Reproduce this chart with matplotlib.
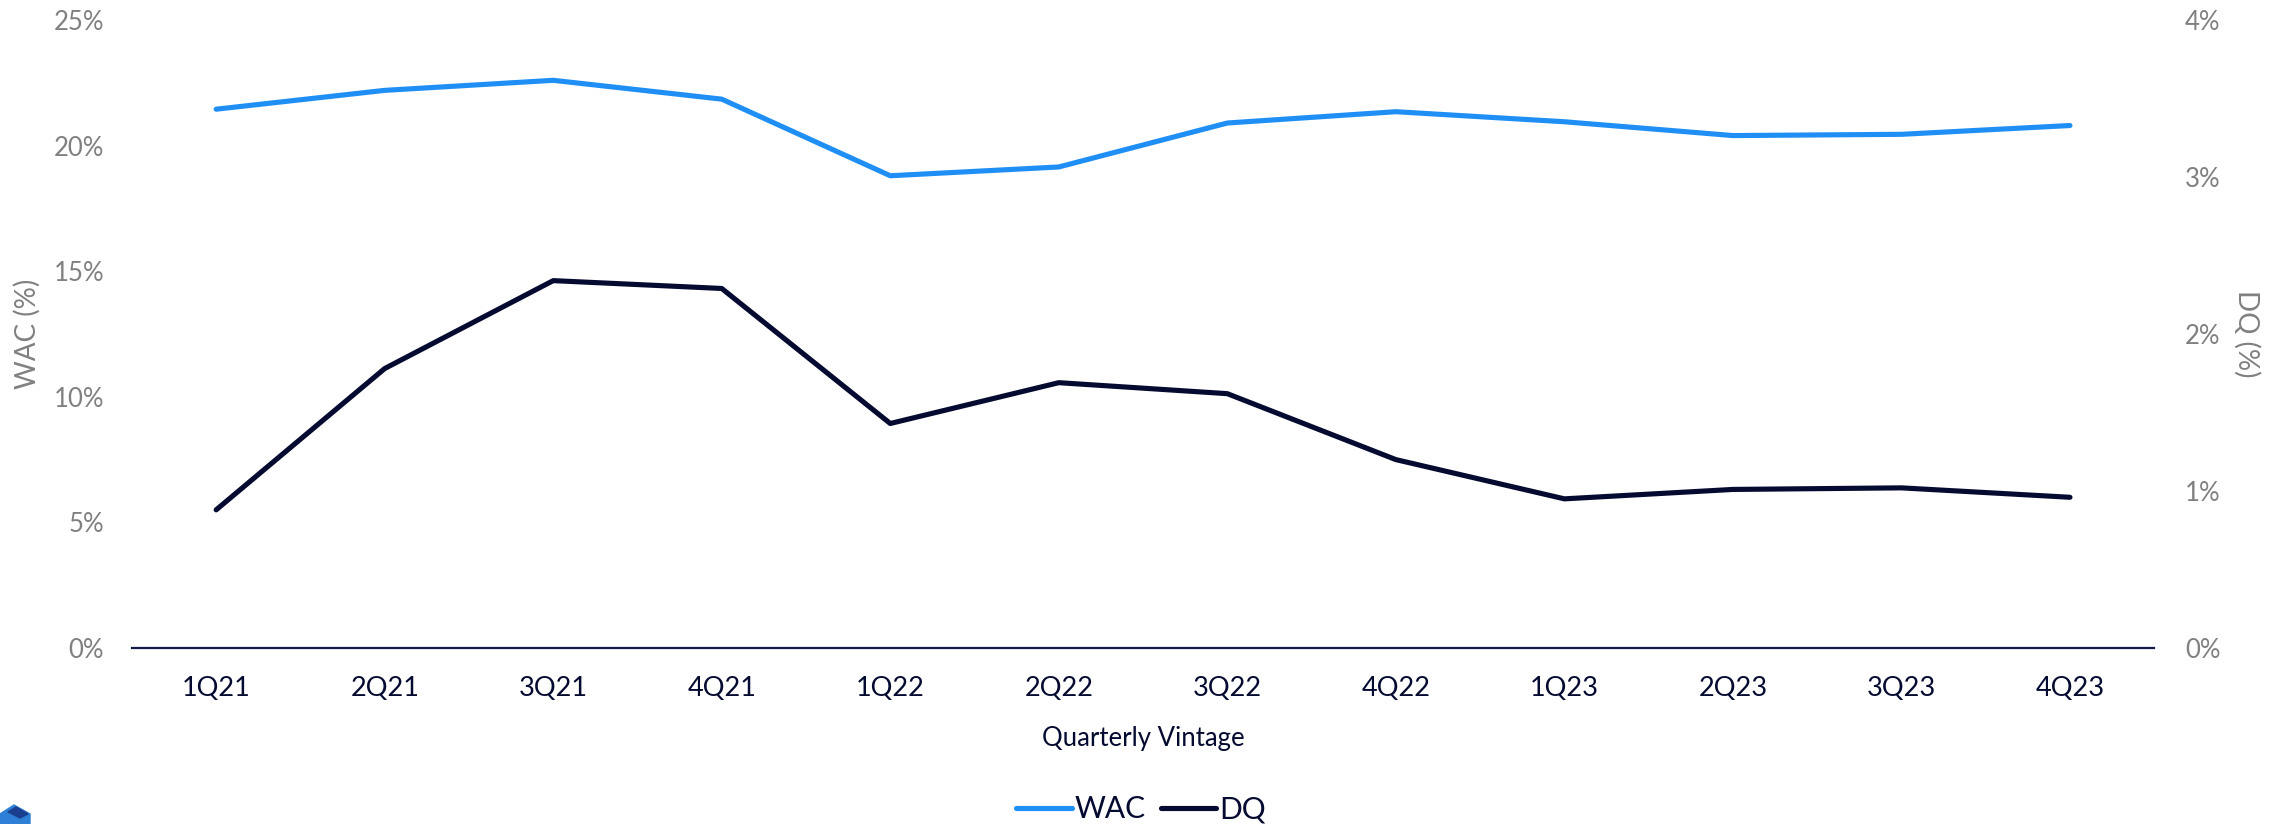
import matplotlib.pyplot as plt
from matplotlib.patches import Polygon
from matplotlib.ticker import FuncFormatter

# Quarterly vintage data
vintages = ['1Q21', '2Q21', '3Q21', '4Q21', '1Q22', '2Q22',
            '3Q22', '4Q22', '1Q23', '2Q23', '3Q23', '4Q23']
wac = [21.45, 22.2, 22.6, 21.85, 18.8, 19.15, 20.9, 21.35, 20.95, 20.4, 20.45, 20.8]
dq = [0.88, 1.78, 2.34, 2.29, 1.43, 1.69, 1.62, 1.20, 0.95, 1.01, 1.02, 0.96]

plt.rcParams['font.family'] = ['Lato', 'DejaVu Sans']

wac_color = '#1f8ff5'
dq_color = '#050a30'
grey = '#808080'

fig = plt.figure(figsize=(22.82, 8.24), dpi=100)
ax = fig.add_axes([0.0578, 0.2136, 0.8862, 0.7621])
ax2 = ax.twinx()

x = list(range(len(vintages)))
l1, = ax.plot(x, wac, color=wac_color, lw=3.7, solid_capstyle='round', label='WAC')
l2, = ax2.plot(x, dq, color=dq_color, lw=3.7, solid_capstyle='round', label='DQ')

ax.set_xlim(-0.5, 11.5)
ax.set_ylim(0, 25)
ax2.set_ylim(0, 4)
ax.set_yticks([0, 5, 10, 15, 20, 25])
ax2.set_yticks([0, 1, 2, 3, 4])
pct = FuncFormatter(lambda v, p: f'{v:.0f}%')
ax.yaxis.set_major_formatter(pct)
ax2.yaxis.set_major_formatter(pct)

ax.set_xticks(x)
ax.set_xticklabels(vintages)

for a in (ax, ax2):
    for s in ['top', 'left', 'right', 'bottom']:
        a.spines[s].set_visible(False)
    a.tick_params(length=0)
# baseline drawn unclipped so its full width shows
ax.axhline(0, color='#111a48', lw=1.6, clip_on=False)

ax.tick_params(axis='y', labelsize=18.5, labelcolor=grey, pad=20)
ax2.tick_params(axis='y', labelsize=18.5, labelcolor=grey, pad=22)
ax.tick_params(axis='x', labelsize=19.5, labelcolor=dq_color, pad=20)

ax.set_ylabel('WAC (%)', fontsize=20, color=grey)
ax.yaxis.set_label_coords(-0.045, 0.5)
ax2.set_ylabel('DQ (%)', fontsize=20, color=grey, rotation=-90, va='center')
ax2.yaxis.set_label_coords(1.0455, 0.5)
ax.set_xlabel('Quarterly Vintage', fontsize=18.5, color=dq_color, labelpad=18)

fig.legend(handles=[l1, l2], loc='center', bbox_to_anchor=(0.5, 0.018),
           ncol=2, frameon=False, fontsize=21.5, handlelength=1.85,
           handletextpad=0.1, columnspacing=0.5, labelcolor=dq_color)

# corner logo fragment
fig.patches.append(Polygon([(0, 10), (14, 19), (30, 10), (30, 0), (0, 0)],
                           closed=True, transform=None, color='#2e7fd6'))
fig.patches.append(Polygon([(8, 12), (16, 17), (28, 10), (20, 6)],
                           closed=True, transform=None, color='#1b3f8f'))

fig.savefig('out.png', dpi=100, facecolor='white')
